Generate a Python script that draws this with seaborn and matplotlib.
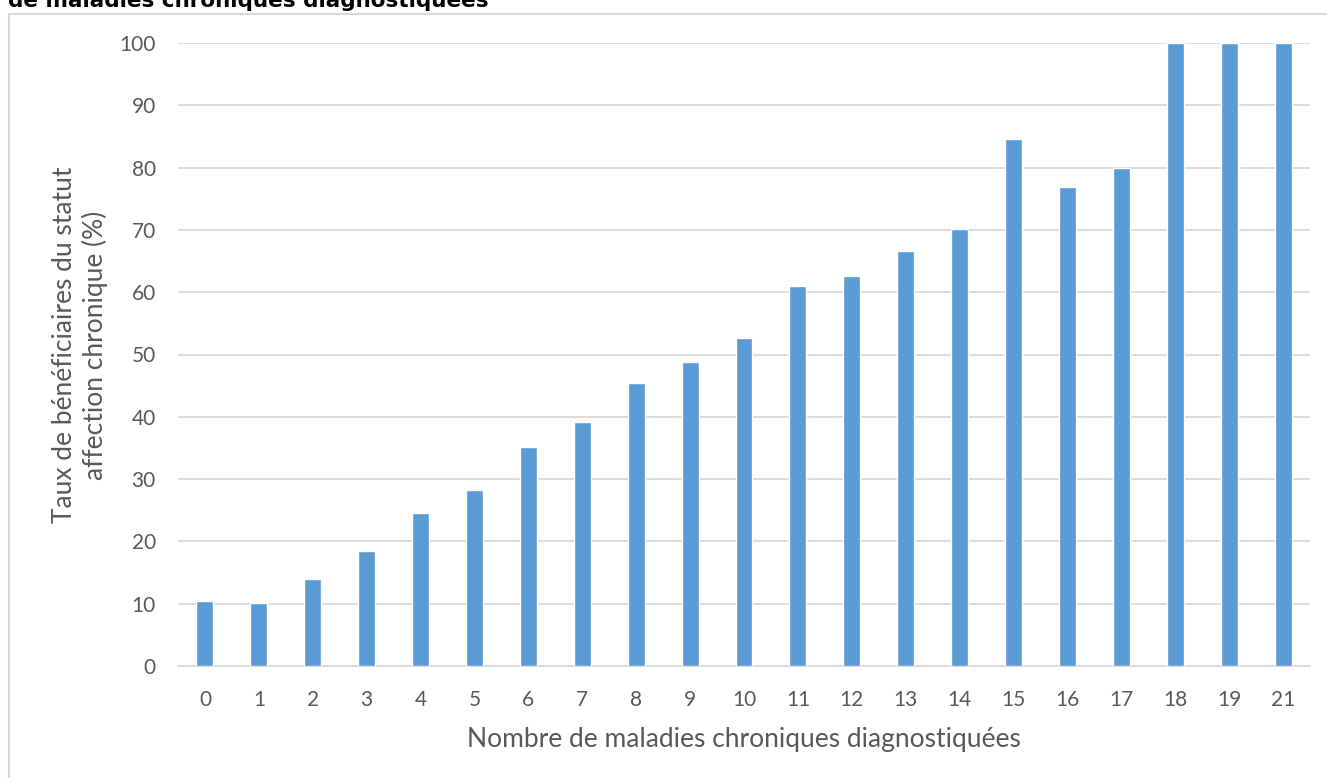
import pandas as pd
import numpy as np
import matplotlib.pyplot as plt
import seaborn as sns
from matplotlib.lines import Line2D

# number of diagnosed chronic diseases (no 20 in source)
categories = ["0", "1", "2", "3", "4", "5", "6", "7", "8", "9", "10",
              "11", "12", "13", "14", "15", "16", "17", "18", "19", "21"]
# share of beneficiaries with chronic-condition status (%)
rates = [10.4, 10.1, 13.9, 18.5, 24.6, 28.2, 35.2, 39.1, 45.4, 48.8, 52.7,
         61.0, 62.6, 66.6, 70.2, 84.6, 76.9, 80.0, 100, 100, 100]
y_ticks = list(range(0, 101, 10))

sns.set_theme(style="white")
plt.rcParams['font.family'] = ['Lato', 'DejaVu Sans']

df = pd.DataFrame({"nb": categories, "taux": rates})

fig = plt.figure(figsize=(13.27, 7.78), dpi=100)
ax = fig.add_axes([178 / 1327, 1 - 666 / 778, (1310 - 178) / 1327, (666 - 43) / 778])

sns.barplot(data=df, x="nb", y="taux", order=categories, color="#5B9BD5",
            width=0.315, saturation=1, ax=ax, zorder=3)

ax.set_ylim(0, 100)
ax.set_yticks(y_ticks)
ax.set_xlim(-0.5, len(categories) - 0.5)
ax.yaxis.grid(True, color="#d9d9d9", linewidth=1.3, zorder=0)
ax.set_axisbelow(True)
for s in ["top", "right", "left"]:
    ax.spines[s].set_visible(False)
ax.spines["bottom"].set_color("#d9d9d9")
ax.spines["bottom"].set_linewidth(1.3)
ax.tick_params(axis="both", length=0, labelsize=15, colors="#595959")
ax.tick_params(axis="y", pad=16)
ax.tick_params(axis="x", pad=17)

ax.set_xlabel("Nombre de maladies chroniques diagnostiquées", fontsize=19,
              color="#595959", va="center")
ax.xaxis.set_label_coords(0.5, -0.118)
ax.set_ylabel("Taux de bénéficiaires du statut\naffection chronique (%)",
              fontsize=19, color="#595959", va="center", linespacing=1.25)
ax.yaxis.set_label_coords(-0.0866, 0.515)

# chart frame (cropped at right and bottom)
fig.add_artist(Line2D([9 / 1327, 9 / 1327], [0, 1 - 14 / 778],
                      transform=fig.transFigure, color="#d9d9d9", linewidth=1.5))
fig.add_artist(Line2D([9 / 1327, 1], [1 - 14 / 778, 1 - 14 / 778],
                      transform=fig.transFigure, color="#d9d9d9", linewidth=1.5))

# title, cut off at the top like the source
fig.text(8 / 1327, 1 - 7 / 778, "de maladies chroniques diagnostiquées",
         fontsize=15.5, fontweight="bold", color="black", va="baseline", ha="left",
         family=["DejaVu Sans"])

fig.savefig("out.png", dpi=100)
